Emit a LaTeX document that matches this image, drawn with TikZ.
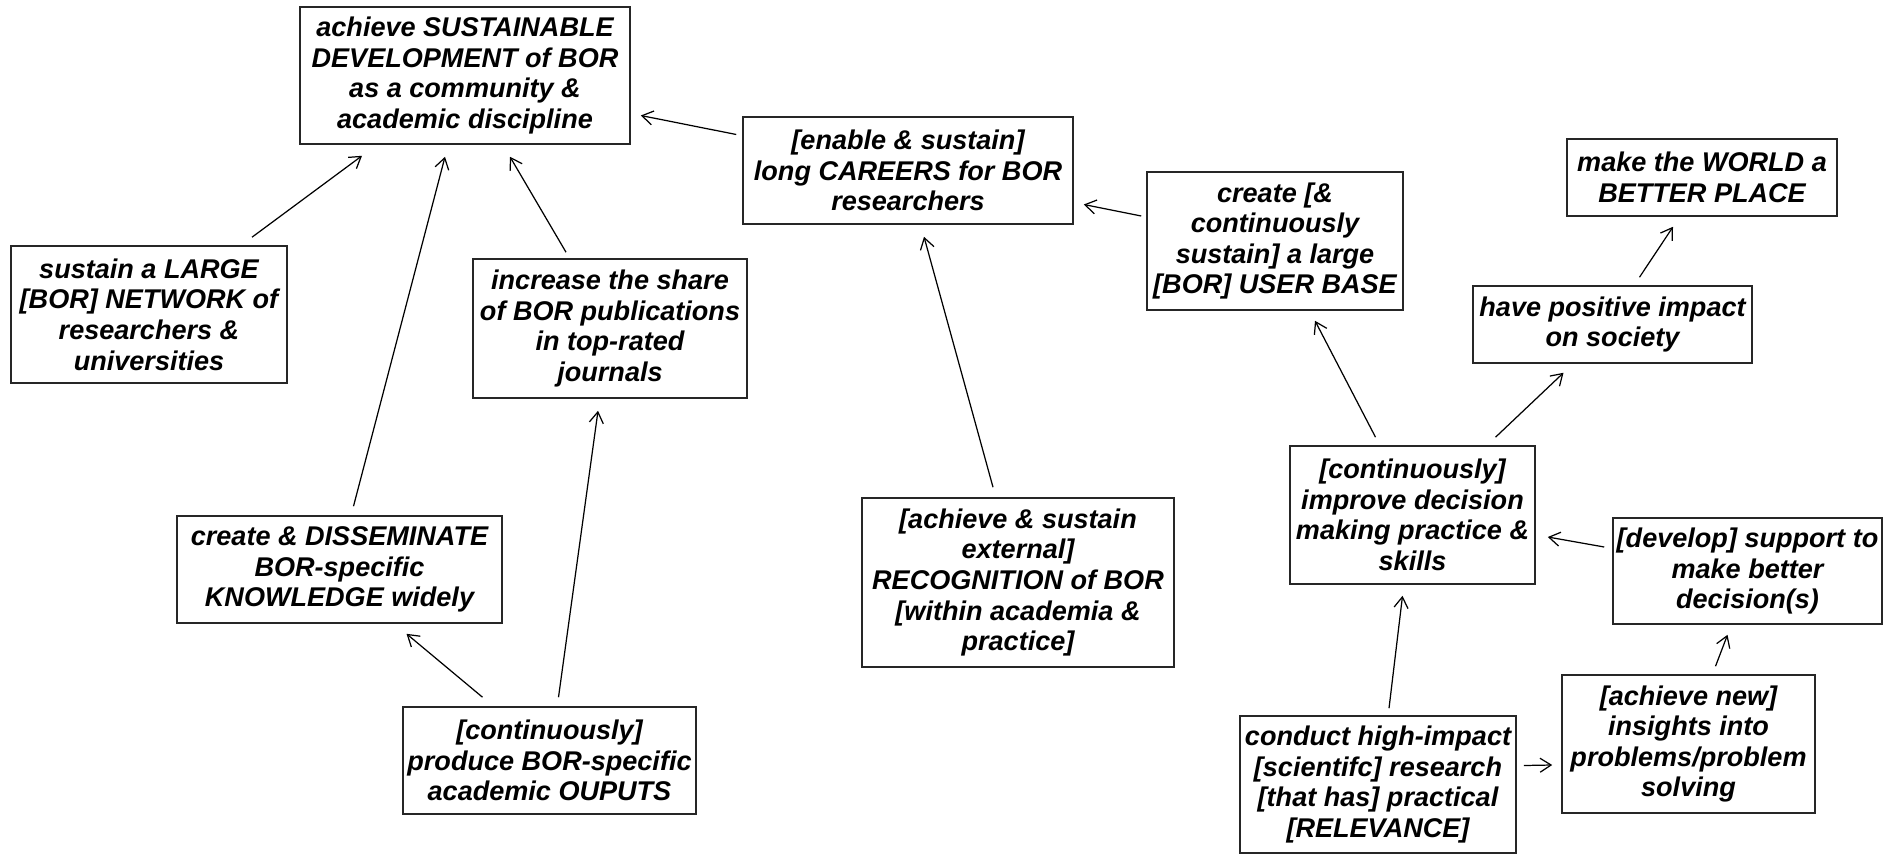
\documentclass[tikz,border=0pt]{standalone}
\usepackage{fontspec}
\setmainfont{Liberation Sans}
\usetikzlibrary{arrows.meta,calc}

\begin{document}
\begin{tikzpicture}[x=0.1mm,y=-0.1mm,>={Straight Barb[length=1.1mm,width=1.4mm]},
    goal/.style={draw=black!85,line width=0.45pt,align=center,inner sep=0pt,
      font=\fontsize{7.7pt}{8.7pt}\selectfont\bfseries\itshape},
    link/.style={->,line width=0.35pt}]
  \useasboundingbox (0,0) rectangle (1884,854);
  \node[goal,minimum width=33mm,minimum height=13.7mm] (sustdev) at (465,75.5)
    {achieve SUSTAINABLE\\DEVELOPMENT of BOR\\as a community \&\\academic discipline};
  \node[goal,minimum width=33mm,minimum height=10.7mm] (careers) at (908,170.5)
    {[enable \& sustain]\\long CAREERS for BOR\\researchers};
  \node[goal,minimum width=25.6mm,minimum height=13.8mm] (userbase) at (1275,241)
    {create [\&\\continuously\\sustain] a large\\{}[BOR] USER BASE};
  \node[goal,minimum width=27mm,minimum height=7.7mm] (world) at (1702,177.5)
    {make the WORLD a\\BETTER PLACE};
  \node[goal,minimum width=27.9mm,minimum height=7.7mm] (impact) at (1612.5,324.5)
    {have positive impact\\on society};
  \node[goal,minimum width=24.5mm,minimum height=13.8mm] (decision) at (1412.5,515)
    {[continuously]\\improve decision\\making practice \&\\skills};
  \node[goal,minimum width=26.9mm,minimum height=10.6mm] (support) at (1747.5,571)
    {[develop] support to\\make better\\decision(s)};
  \node[goal,minimum width=25.3mm,minimum height=13.8mm] (insights) at (1688.5,744)
    {[achieve new]\\insights into\\problems/problem\\solving};
  \node[goal,minimum width=27.6mm,minimum height=13.7mm] (research) at (1378,784.5)
    {conduct high-impact\\{}[scientifc] research\\{}[that has] practical\\{}[RELEVANCE]};
  \node[goal,minimum width=31.2mm,minimum height=16.9mm] (recog) at (1018,582.5)
    {[achieve \& sustain\\external]\\RECOGNITION of BOR\\{}[within academia \&\\practice]};
  \node[goal,minimum width=29.3mm,minimum height=10.7mm] (outputs) at (549.5,760.5)
    {[continuously]\\produce BOR-specific\\academic OUPUTS};
  \node[goal,minimum width=32.5mm,minimum height=10.7mm] (knowledge) at (339.5,569.5)
    {create \& DISSEMINATE\\BOR-specific\\KNOWLEDGE widely};
  \node[goal,minimum width=27.4mm,minimum height=13.9mm] (journals) at (610,328.5)
    {increase the share\\of BOR publications\\in top-rated\\journals};
  \node[goal,minimum width=27.6mm,minimum height=13.7mm] (network) at (149,314.5)
    {sustain a LARGE\\{}[BOR] NETWORK of\\researchers \&\\universities};

  \draw[link] ($(careers.west)+(-6,-36)$) -- ($(sustdev.east)+(10,40)$);
  \draw[link] ($(userbase.west)+(-5,-25)$) -- ($(careers.east)+(10,34)$);
  \draw[link] ($(network.north)+(103,-8)$) -- ($(sustdev.south)+(-103,11)$);
  \draw[link] ($(knowledge.north)+(14,-9)$) -- ($(sustdev.south)+(-20,12)$);
  \draw[link] ($(journals.north)+(-44,-6)$) -- ($(sustdev.south)+(45,12)$);
  \draw[link] ($(outputs.north)+(-67,-9)$) -- ($(knowledge.south)+(67,10)$);
  \draw[link] ($(outputs.north)+(9,-9)$) -- ($(journals.south)+(-12,12)$);
  \draw[link] ($(recog.north)+(-25,-10)$) -- ($(careers.south)+(16,12)$);
  \draw[link] ($(decision.north)+(-37,-8)$) -- ($(userbase.south)+(40,10)$);
  \draw[link] ($(decision.north)+(83,-8)$) -- ($(impact.south)+(-49,9)$);
  \draw[link] ($(impact.north)+(27,-8)$) -- ($(world.south)+(-29,10)$);
  \draw[link] ($(support.west)+(-8,-24)$) -- ($(decision.east)+(12,22)$);
  \draw[link] ($(insights.north)+(27,-8)$) -- ($(support.south)+(-20,10)$);
  \draw[link] ($(research.north)+(11,-7)$) -- ($(decision.south)+(-10,11)$);
  \draw[link] ($(research.east)+(7,-19)$) -- ($(insights.west)+(-9,21)$);
\end{tikzpicture}
\end{document}
